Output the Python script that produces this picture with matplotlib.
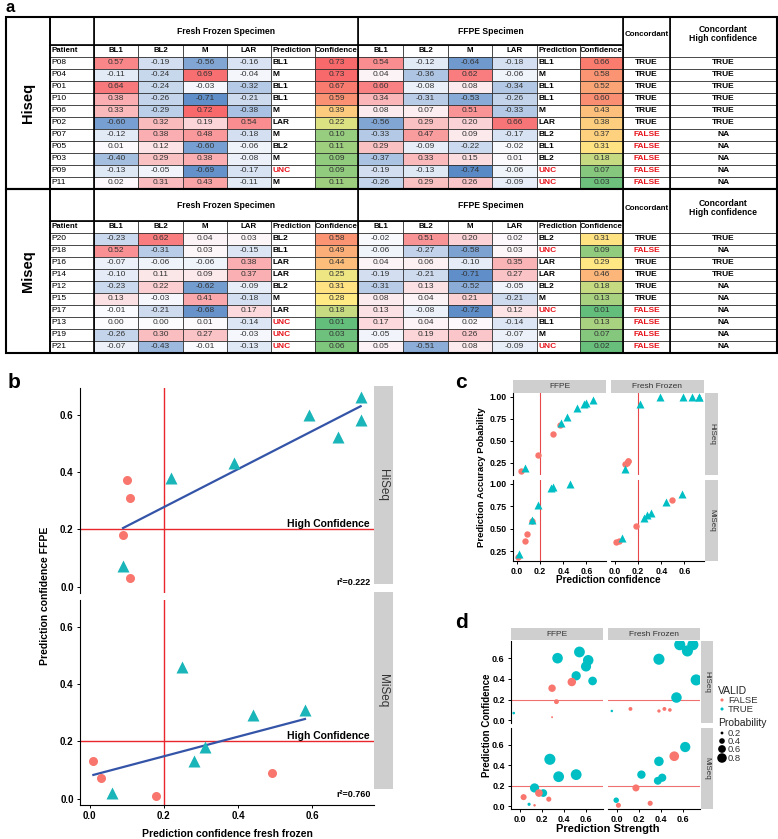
import numpy as np
import matplotlib
matplotlib.use("Agg")
import matplotlib.pyplot as plt
from matplotlib.patches import Rectangle
from matplotlib.colors import LinearSegmentedColormap, TwoSlopeNorm

plt.rcParams['font.family'] = ['Liberation Sans', 'DejaVu Sans']

# ---------------- data (panel a table) ----------------
score_names = ['BL1', 'BL2', 'M', 'LAR']

hi_patients = ['P08', 'P04', 'P01', 'P10', 'P06', 'P02', 'P07', 'P05', 'P03', 'P09', 'P11']
hi_ff_scores = [[0.57, -0.19, -0.56, -0.16], [-0.11, -0.24, 0.69, -0.04], [0.64, -0.24, -0.03, -0.32],
                [0.38, -0.26, -0.71, -0.21], [0.33, -0.29, 0.72, -0.38], [-0.60, 0.32, 0.19, 0.54],
                [-0.12, 0.38, 0.48, -0.18], [0.01, 0.12, -0.60, -0.06], [-0.40, 0.29, 0.38, -0.08],
                [-0.13, -0.05, -0.69, -0.17], [0.02, 0.31, 0.43, -0.11]]
hi_ff_pred = ['BL1', 'M', 'BL1', 'BL1', 'M', 'LAR', 'M', 'BL2', 'M', 'UNC', 'M']
hi_ff_conf = [0.73, 0.73, 0.67, 0.59, 0.39, 0.22, 0.10, 0.11, 0.09, 0.09, 0.11]
hi_ffpe_scores = [[0.54, -0.12, -0.64, -0.18], [0.04, -0.36, 0.62, -0.06], [0.60, -0.08, 0.08, -0.34],
                  [0.34, -0.31, -0.53, -0.26], [0.08, 0.07, 0.51, -0.33], [-0.56, 0.29, 0.20, 0.66],
                  [-0.33, 0.47, 0.09, -0.17], [0.29, -0.09, -0.22, -0.02], [-0.37, 0.33, 0.15, 0.01],
                  [-0.19, -0.13, -0.74, -0.06], [-0.26, 0.29, 0.26, -0.09]]
hi_ffpe_pred = ['BL1', 'M', 'BL1', 'BL1', 'M', 'LAR', 'BL2', 'BL1', 'BL2', 'UNC', 'UNC']
hi_ffpe_conf = [0.66, 0.58, 0.52, 0.60, 0.43, 0.38, 0.37, 0.31, 0.18, 0.07, 0.03]
hi_concordant = ['TRUE', 'TRUE', 'TRUE', 'TRUE', 'TRUE', 'TRUE', 'FALSE', 'FALSE', 'FALSE', 'FALSE', 'FALSE']
hi_conc_high = ['TRUE', 'TRUE', 'TRUE', 'TRUE', 'TRUE', 'TRUE', 'NA', 'NA', 'NA', 'NA', 'NA']

mi_patients = ['P20', 'P18', 'P16', 'P14', 'P12', 'P15', 'P17', 'P13', 'P19', 'P21']
mi_ff_scores = [[-0.23, 0.62, 0.04, 0.03], [0.52, -0.31, 0.03, -0.15], [-0.07, -0.06, -0.06, 0.38],
                [-0.10, 0.11, 0.09, 0.37], [-0.23, 0.22, -0.62, -0.09], [0.13, -0.03, 0.41, -0.18],
                [-0.01, -0.21, -0.68, 0.17], [0.00, 0.00, 0.01, -0.14], [-0.26, 0.30, 0.27, -0.03],
                [-0.07, -0.43, -0.01, -0.13]]
mi_ff_pred = ['BL2', 'BL1', 'LAR', 'LAR', 'BL2', 'M', 'LAR', 'UNC', 'UNC', 'UNC']
mi_ff_conf = [0.58, 0.49, 0.44, 0.25, 0.31, 0.28, 0.18, 0.01, 0.03, 0.06]
mi_ffpe_scores = [[-0.02, 0.51, 0.20, 0.02], [-0.06, -0.27, -0.58, 0.03], [0.04, 0.06, -0.10, 0.35],
                  [-0.19, -0.21, -0.71, 0.27], [-0.31, 0.13, -0.52, -0.05], [0.08, 0.04, 0.21, -0.21],
                  [0.13, -0.08, -0.72, 0.12], [0.17, 0.04, 0.02, -0.14], [-0.05, 0.19, 0.26, -0.07],
                  [0.05, -0.51, 0.08, -0.09]]
mi_ffpe_pred = ['BL2', 'UNC', 'LAR', 'LAR', 'BL2', 'M', 'UNC', 'BL1', 'M', 'UNC']
mi_ffpe_conf = [0.31, 0.09, 0.29, 0.46, 0.18, 0.13, 0.01, 0.13, 0.07, 0.02]
mi_concordant = ['TRUE', 'FALSE', 'TRUE', 'TRUE', 'TRUE', 'TRUE', 'FALSE', 'FALSE', 'FALSE', 'FALSE']
mi_conc_high = ['TRUE', 'NA', 'TRUE', 'TRUE', 'NA', 'NA', 'NA', 'NA', 'NA', 'NA']

# ---------------- data (panels b-d) ----------------
hi_valid = [True, True, True, True, True, True, False, False, False, True, False]
mi_valid = [True, False, True, True, True, True, False, False, False, True]
hi_prob_ff = [1.00, 1.00, 1.00, 1.00, 1.00, 0.92, 0.25, 0.27, 0.23, 0.18, 0.27]
hi_prob_ffpe = [0.96, 0.92, 0.87, 0.93, 0.77, 0.70, 0.68, 0.57, 0.34, 0.19, 0.15]
mi_prob_ff = [0.89, 0.82, 0.80, 0.62, 0.67, 0.65, 0.53, 0.35, 0.36, 0.39]
mi_prob_ffpe = [0.96, 0.44, 0.955, 1.00, 0.76, 0.60, 0.18, 0.59, 0.36, 0.22]
r2_labels = ['r\u00b2=0.222', 'r\u00b2=0.760']

RED = '#F8766D'
TEAL = '#00BFC4'

W, H = 778, 839
fig = plt.figure(figsize=(W / 100, H / 100), dpi=100)


def ax_px(x0, y0, x1, y1):
    return fig.add_axes([x0 / W, 1 - y1 / H, (x1 - x0) / W, (y1 - y0) / H])


# ---------------- panel a: table ----------------
score_cmap = LinearSegmentedColormap.from_list('score', ['#5A8AC6', '#FCFCFF', '#F8696B'])
score_norm = TwoSlopeNorm(vmin=-0.74, vcenter=0.0, vmax=0.72)
conf_cmap = LinearSegmentedColormap.from_list('conf', ['#63BE7B', '#FFEB84', '#F8696B'])
conf_norm = TwoSlopeNorm(vmin=0.01, vcenter=0.28, vmax=0.73)

tab = ax_px(0, 0, W, 360)
tab.set_xlim(0, W)
tab.set_ylim(360, 0)
tab.axis('off')

col_x = [6, 50, 94, 138, 183, 227, 271, 315, 358, 403, 448, 492, 537, 580, 623, 670, 777]
ROW = 12
FS = 6.0
HFS = 5.7


def cell(x0, x1, y0, y1, color='white', lw=0.5):
    tab.add_patch(Rectangle((x0, y0), x1 - x0, y1 - y0, facecolor=color,
                            edgecolor='#222222', linewidth=lw))


def draw_block(top, head_h, label, patients, ff_s, ff_p, ff_c, pe_s, pe_p, pe_c, conc, conc_hi):
    n = len(patients)
    hb = top + head_h
    rb = hb + ROW
    bottom = rb + ROW * n
    # header row
    cell(col_x[1], col_x[2], top, hb)
    cell(col_x[2], col_x[8], top, hb)
    tab.text((col_x[2] + col_x[8]) / 2, (top + hb) / 2, 'Fresh Frozen Specimen',
             ha='center', va='center', fontsize=6.2, fontweight='bold')
    cell(col_x[8], col_x[14], top, hb)
    tab.text((col_x[8] + col_x[14]) / 2, (top + hb) / 2, 'FFPE Specimen',
             ha='center', va='center', fontsize=6.2, fontweight='bold')
    cell(col_x[14], col_x[15], top, rb)
    tab.text((col_x[14] + col_x[15]) / 2, (top + rb) / 2 - 3, 'Concordant',
             ha='center', va='center', fontsize=HFS, fontweight='bold')
    cell(col_x[15], col_x[16], top, rb)
    tab.text((col_x[15] + col_x[16]) / 2, (top + rb) / 2 - 3, 'Concordant\nHigh confidence',
             ha='center', va='center', fontsize=6.2, fontweight='bold', linespacing=1.1)
    # column header row
    heads = ['Patient'] + score_names + ['Prediction', 'Confidence'] + score_names + ['Prediction', 'Confidence']
    for j, h in enumerate(heads):
        x0, x1 = col_x[j + 1], col_x[j + 2]
        cell(x0, x1, hb, rb)
        if h in ('Patient', 'Prediction'):
            tab.text(x0 + 1.5, (hb + rb) / 2, h, ha='left', va='center', fontsize=HFS, fontweight='bold')
        else:
            tab.text((x0 + x1) / 2, (hb + rb) / 2, h, ha='center', va='center', fontsize=HFS, fontweight='bold')
    # data rows
    for i in range(n):
        y0 = rb + ROW * i
        y1 = y0 + ROW
        yc = (y0 + y1) / 2
        cell(col_x[1], col_x[2], y0, y1)
        tab.text(col_x[1] + 1.5, yc, patients[i], ha='left', va='center', fontsize=FS)
        for off, sc, pr, cf in ((2, ff_s[i], ff_p[i], ff_c[i]), (8, pe_s[i], pe_p[i], pe_c[i])):
            for k, v in enumerate(sc):
                x0, x1 = col_x[off + k], col_x[off + k + 1]
                cell(x0, x1, y0, y1, score_cmap(score_norm(v)))
                tab.text((x0 + x1) / 2, yc, f'{v:.2f}', ha='center', va='center', fontsize=FS, color='#333333')
            x0, x1 = col_x[off + 4], col_x[off + 5]
            cell(x0, x1, y0, y1)
            tab.text(x0 + 1.5, yc, pr, ha='left', va='center', fontsize=FS, fontweight='bold',
                     color='#E8141C' if pr == 'UNC' else 'black')
            x0, x1 = col_x[off + 5], col_x[off + 6]
            cell(x0, x1, y0, y1, conf_cmap(conf_norm(cf)))
            tab.text((x0 + x1) / 2, yc, f'{cf:.2f}', ha='center', va='center', fontsize=FS, color='#333333')
        cell(col_x[14], col_x[15], y0, y1)
        tab.text((col_x[14] + col_x[15]) / 2, yc, conc[i], ha='center', va='center', fontsize=FS,
                 fontweight='bold', color='#E8141C' if conc[i] == 'FALSE' else 'black')
        cell(col_x[15], col_x[16], y0, y1)
        tab.text((col_x[15] + col_x[16]) / 2, yc, conc_hi[i], ha='center', va='center', fontsize=FS,
                 fontweight='bold')
    # section label column and thick borders
    tab.add_patch(Rectangle((col_x[0], top), col_x[1] - col_x[0], bottom - top, facecolor='none',
                            edgecolor='black', linewidth=1.4))
    tab.text((col_x[0] + col_x[1]) / 2, (top + bottom) / 2, label, rotation=90, ha='center', va='center',
             fontsize=10.5, fontweight='bold')
    tab.add_patch(Rectangle((col_x[0], top), col_x[-1] - col_x[0], bottom - top, facecolor='none',
                            edgecolor='black', linewidth=1.5))
    for xi in (2, 8, 14, 15):
        tab.plot([col_x[xi], col_x[xi]], [top, bottom], color='black', lw=1.2)
    tab.plot([col_x[1], col_x[14]], [hb, hb], color='black', lw=1.2)
    return bottom


tab.text(6, 8, 'a', ha='left', va='center', fontsize=12, fontweight='bold')
b1 = draw_block(17, 28, 'Hiseq', hi_patients, hi_ff_scores, hi_ff_pred, hi_ff_conf,
                hi_ffpe_scores, hi_ffpe_pred, hi_ffpe_conf, hi_concordant, hi_conc_high)
draw_block(b1, 32, 'Miseq', mi_patients, mi_ff_scores, mi_ff_pred, mi_ff_conf,
           mi_ffpe_scores, mi_ffpe_pred, mi_ffpe_conf, mi_concordant, mi_conc_high)


# ---------------- helpers for panels ----------------
def strip(x0, y0, x1, y1, text, rot=0, fs=6.5):
    s = ax_px(x0, y0, x1, y1)
    s.set_facecolor('#CFCFCF')
    s.set_xticks([])
    s.set_yticks([])
    for sp in s.spines.values():
        sp.set_visible(False)
    s.text(0.5, 0.5, text, rotation=rot, ha='center', va='center', fontsize=fs,
           color='#333333', transform=s.transAxes)
    return s


def style_axes(ax, left, bottom, xt, yt, ylabels, fs):
    for sp in ('top', 'right'):
        ax.spines[sp].set_visible(False)
    ax.spines['left'].set_visible(left)
    ax.spines['bottom'].set_visible(bottom)
    ax.tick_params(length=2.5, width=0.7, pad=2, colors='black')
    ax.set_xticks(xt)
    ax.set_yticks(yt)
    if bottom:
        ax.set_xticklabels([f'{v:.1f}' for v in xt], fontsize=fs, fontweight='bold')
    else:
        ax.tick_params(axis='x', bottom=False, labelbottom=False)
    if left:
        ax.set_yticklabels(ylabels, fontsize=fs, fontweight='bold')
    else:
        ax.tick_params(axis='y', left=False, labelleft=False)


# ---------------- panel b ----------------
fig.text(8 / W, 1 - 383 / H, 'b', fontsize=15, fontweight='bold', va='center')
b_sets = [('HiSeq', hi_ff_conf, hi_ffpe_conf, hi_valid, r2_labels[0], (388, 593), (386, 584)),
          ('MiSeq', mi_ff_conf, mi_ffpe_conf, mi_valid, r2_labels[1], (600, 805), (592, 789))]
for k, (name, xs, ys, valid, r2, (yt, yb), (st, sb)) in enumerate(b_sets):
    ax = ax_px(80, yt, 374, yb)
    xs = np.array(xs)
    ys = np.array(ys)
    v = np.array(valid)
    ax.axvline(0.2, color='#E8262B', lw=1.0, zorder=1)
    ax.axhline(0.2, color='#E8262B', lw=1.0, zorder=1)
    ax.plot(xs[~v], ys[~v], 'o', color=RED, ms=6.5, mec='none', zorder=3)
    ax.plot(xs[v], ys[v], '^', color='#1AB5B8', ms=8, mec='none', zorder=3)
    slope, icpt = np.polyfit(xs, ys, 1)
    xl = np.array([xs.min(), xs.max()])
    ax.plot(xl, slope * xl + icpt, color='#3454A8', lw=1.6, zorder=2)
    ax.set_xlim(-0.026, 0.766)
    ax.set_ylim(-0.0225, 0.6925)
    style_axes(ax, True, k == 1, [0.0, 0.2, 0.4, 0.6], [0.0, 0.2, 0.4, 0.6],
               ['0.0', '0.2', '0.4', '0.6'], 7)
    ax.text(0.985, 0.2, 'High Confidence', transform=ax.get_yaxis_transform(), ha='right',
            va='bottom', fontsize=7.5, fontweight='bold')
    ax.text(0.99, 0.03, r2, transform=ax.transAxes, ha='right', va='bottom', fontsize=6.5,
            fontweight='bold')
    strip(374, st, 393, sb, name, rot=-90, fs=8.5)
fig.text(227 / W, 1 - 834 / H, 'Prediction confidence fresh frozen', ha='center', va='center',
         fontsize=7.5, fontweight='bold')
fig.text(45 / W, 1 - 596 / H, 'Prediction confidence FFPE', rotation=90, ha='center', va='center',
         fontsize=7.5, fontweight='bold')

# ---------------- panel c ----------------
fig.text(455 / W, 1 - 383 / H, 'c', fontsize=15, fontweight='bold', va='center')
c_cols = [('FFPE', 513, 606), ('Fresh Frozen', 611, 704)]
c_rows = [('HiSeq', 393, 475, (0.1075, 1.0425)), ('MiSeq', 480, 561, (0.139, 1.041))]
c_data = {('FFPE', 'HiSeq'): (hi_ffpe_conf, hi_prob_ffpe, hi_valid),
          ('Fresh Frozen', 'HiSeq'): (hi_ff_conf, hi_prob_ff, hi_valid),
          ('FFPE', 'MiSeq'): (mi_ffpe_conf, mi_prob_ffpe, mi_valid),
          ('Fresh Frozen', 'MiSeq'): (mi_ff_conf, mi_prob_ff, mi_valid)}
for ci, (cname, x0, x1) in enumerate(c_cols):
    strip(x0, 380, x1, 393, cname, fs=6)
    for ri, (rname, y0, y1, ylim) in enumerate(c_rows):
        ax = ax_px(x0, y0, x1, y1)
        xs, ps, valid = c_data[(cname, rname)]
        xs = np.array(xs)
        ps = np.array(ps)
        v = np.array(valid)
        ax.axvline(0.2, color='#E8484A', lw=0.8, zorder=1)
        ax.plot(xs[~v], ps[~v], 'o', color=RED, ms=4.6, mec='none', zorder=3)
        ax.plot(xs[v], ps[v], '^', color=TEAL, ms=5.2, mec='none', zorder=3)
        ax.set_xlim(-0.035, 0.77)
        ax.set_ylim(*ylim)
        style_axes(ax, ci == 0, ri == 1, [0.0, 0.2, 0.4, 0.6], [0.25, 0.5, 0.75, 1.0],
                   ['0.25', '0.50', '0.75', '1.00'], 6.3)
        if ci == 1:
            strip(705, y0, 718, y1, rname, rot=-90, fs=5.8)
fig.text(608 / W, 1 - 580 / H, 'Prediction confidence', ha='center', va='center',
         fontsize=7.2, fontweight='bold')
fig.text(482 / W, 1 - 477 / H, 'Prediction Accuracy Pobability', rotation=90, ha='center',
         va='center', fontsize=6.8, fontweight='bold')

# ---------------- panel d ----------------
p_all = np.array(hi_prob_ff + hi_prob_ffpe + mi_prob_ff + mi_prob_ffpe)
pmin, pmax = p_all.min(), p_all.max()


def dot_area(p):
    d = 1.4 + (np.sqrt(p) - np.sqrt(pmin)) / (np.sqrt(pmax) - np.sqrt(pmin)) * 6.6
    return d ** 2


fig.text(455 / W, 1 - 622 / H, 'd', fontsize=15, fontweight='bold', va='center')
d_cols = [('FFPE', 511, 603), ('Fresh Frozen', 608, 700)]
d_rows = [('HiSeq', 641, 723), ('MiSeq', 728, 809)]
d_data = {('FFPE', 'HiSeq'): (hi_ffpe_scores, hi_ffpe_conf, hi_prob_ffpe, hi_valid),
          ('Fresh Frozen', 'HiSeq'): (hi_ff_scores, hi_ff_conf, hi_prob_ff, hi_valid),
          ('FFPE', 'MiSeq'): (mi_ffpe_scores, mi_ffpe_conf, mi_prob_ffpe, mi_valid),
          ('Fresh Frozen', 'MiSeq'): (mi_ff_scores, mi_ff_conf, mi_prob_ff, mi_valid)}
for ci, (cname, x0, x1) in enumerate(d_cols):
    strip(x0, 628, x1, 640, cname, fs=6)
    for ri, (rname, y0, y1) in enumerate(d_rows):
        ax = ax_px(x0, y0, x1, y1)
        sc, cf, ps, valid = d_data[(cname, rname)]
        strength = np.array(sc).max(axis=1)
        cf = np.array(cf)
        ps = np.array(ps)
        cols = [TEAL if vv else RED for vv in valid]
        ax.axhline(0.2, color='#F07070', lw=0.8, zorder=1)
        ax.scatter(strength, cf, s=dot_area(ps), c=cols, edgecolors='none', zorder=3)
        ax.set_xlim(-0.085, 0.755)
        ax.set_ylim(-0.026, 0.766)
        style_axes(ax, ci == 0, ri == 1, [0.0, 0.2, 0.4, 0.6], [0.0, 0.2, 0.4, 0.6],
                   ['0.0', '0.2', '0.4', '0.6'], 6.5)
        if ci == 1:
            strip(701, y0, 713, y1, rname, rot=-90, fs=5.8)
fig.text(608 / W, 1 - 829 / H, 'Prediction Strength', ha='center', va='center',
         fontsize=8, fontweight='bold')
fig.text(487 / W, 1 - 725 / H, 'Prediction Confidence', rotation=90, ha='center',
         va='center', fontsize=7, fontweight='bold')

# legend for panel d
lg = ax_px(714, 680, 778, 768)
lg.set_xlim(714, 778)
lg.set_ylim(768, 680)
lg.axis('off')
lg.text(718, 691, 'VALID', ha='left', va='center', fontsize=7.5, color='#222222')
for yy, lab, col in ((700, 'FALSE', RED), (709, 'TRUE', TEAL)):
    lg.scatter([722], [yy], s=5, c=col, edgecolors='none')
    lg.text(728, yy, lab, ha='left', va='center', fontsize=6.8, color='#333333')
lg.text(718, 723, 'Probability', ha='left', va='center', fontsize=7.5, color='#222222')
for yy, pv in zip((733, 741, 749, 758), (0.2, 0.4, 0.6, 0.8)):
    lg.scatter([722], [yy], s=dot_area(pv), c='black', edgecolors='none')
    lg.text(728, yy, f'{pv:.1f}', ha='left', va='center', fontsize=6.8, color='#333333')

fig.savefig('out.png', dpi=100)
